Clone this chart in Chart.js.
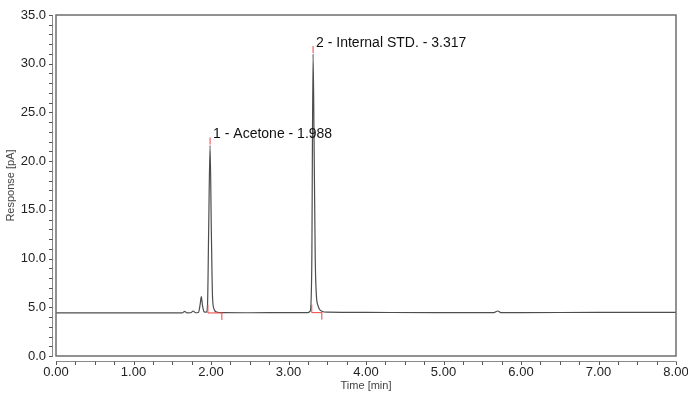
<!DOCTYPE html>
<html lang="en">

<head>
    <meta charset="UTF-8">
    <title>Chromatogram</title>
    <style>
        html, body { margin: 0; padding: 0; background: #ffffff; }
        .chart-wrapper { width: 688px; height: 396px; }
    </style>
</head>

<body>
    <div class="chart-wrapper">
        <canvas id="myChart"></canvas>
    </div>

    <script src="https://cdn.jsdelivr.net/npm/chart.js"></script>
    <script>
        // trace
        const timeMin = [0.00, 0.50, 1.00, 1.50, 1.63, 1.66, 1.69, 1.74, 1.77, 1.80, 1.84, 1.86, 1.875, 1.89, 1.91, 1.94,
            1.955, 1.97, 1.988, 2.005, 2.02, 2.04, 2.07, 2.15, 2.50, 3.00, 3.25, 3.28, 3.30, 3.317, 3.33, 3.345, 3.36,
            3.38, 3.40, 3.43, 3.50, 4.00, 5.00, 5.65, 5.70, 5.74, 6.00, 7.00, 8.00];
        const responsePA = [4.42, 4.42, 4.43, 4.43, 4.43, 4.58, 4.43, 4.44, 4.62, 4.44, 4.50, 5.30, 6.10, 5.20, 4.55, 4.50,
            5.20, 13.0, 21.6, 12.5, 6.0, 4.8, 4.52, 4.45, 4.44, 4.45, 4.46, 4.60, 9.0, 31.0, 22.0, 10.0, 6.2,
            5.2, 4.8, 4.6, 4.5, 4.47, 4.46, 4.46, 4.62, 4.46, 4.46, 4.47, 4.47];

        // peak table
        const peakLabels = ['1 - Acetone - 1.988', '2 - Internal STD. - 3.317'];
        const peakTimes = [1.988, 3.317];
        const peakHeights = [21.6, 31.0];
        const peakStarts = [1.96, 3.30];
        const peakEnds = [2.14, 3.43];
        const peakBaselines = [4.42, 4.45];

        const xTickLabels = ['0.00', '1.00', '2.00', '3.00', '4.00', '5.00', '6.00', '7.00', '8.00'];
        const yTickLabels = ['0.0', '5.0', '10.0', '15.0', '20.0', '25.0', '30.0', '35.0'];

        const FONT = "'Liberation Sans', Arial, sans-serif";

        const chromPlugin = {
            id: 'chromPlugin',
            afterDatasetsDraw(chart) {
                const { ctx, chartArea, scales: { x, y } } = chart;
                const { left, right, top, bottom } = chartArea;
                ctx.save();

                // plot frame
                ctx.strokeStyle = '#6e6e6e';
                ctx.lineWidth = 1.5;
                ctx.strokeRect(left, top, right - left, bottom - top);

                // detached axis lines
                ctx.strokeStyle = '#8a8a8a';
                ctx.lineWidth = 1;
                ctx.beginPath();
                ctx.moveTo(left - 3.5, top);
                ctx.lineTo(left - 3.5, bottom + 1);
                ctx.moveTo(left, bottom + 5.5);
                ctx.lineTo(right, bottom + 5.5);
                ctx.stroke();

                // tick marks
                ctx.strokeStyle = '#555';
                ctx.beginPath();
                y.ticks.forEach(t => {
                    const py = Math.round(y.getPixelForValue(t.value)) + 0.5;
                    ctx.moveTo(left - 3.5, py);
                    ctx.lineTo(left - 7, py);
                });
                x.ticks.forEach(t => {
                    const px = Math.round(x.getPixelForValue(t.value)) + 0.5;
                    ctx.moveTo(px, bottom + 5.5);
                    ctx.lineTo(px, bottom + 9);
                });
                ctx.stroke();

                // peak marks and labels
                ctx.strokeStyle = '#f04040';
                ctx.lineWidth = 1;
                ctx.font = '14px ' + FONT;
                ctx.fillStyle = '#111';
                ctx.textBaseline = 'middle';
                ctx.textAlign = 'left';
                peakTimes.forEach((t, i) => {
                    const px = x.getPixelForValue(t);
                    const py = y.getPixelForValue(peakHeights[i]);
                    ctx.beginPath();
                    ctx.moveTo(px, py - 1);
                    ctx.lineTo(px, py - 8);
                    const bx0 = x.getPixelForValue(peakStarts[i]);
                    const bx1 = x.getPixelForValue(peakEnds[i]);
                    const by = y.getPixelForValue(peakBaselines[i]);
                    ctx.moveTo(bx0, by - 8);
                    ctx.lineTo(bx0, by);
                    ctx.lineTo(bx1, by);
                    ctx.moveTo(bx1, by - 1);
                    ctx.lineTo(bx1, by + 7);
                    ctx.stroke();
                    ctx.fillText(peakLabels[i], px + 3, py - 11);
                });
                ctx.restore();
            }
        };

        const ctx = document.getElementById('myChart').getContext('2d');

        new Chart(ctx, {
            type: 'line',
            data: {
                datasets: [{
                    data: timeMin.map((t, i) => ({ x: t, y: responsePA[i] })),
                    borderColor: '#4d4d4d',
                    borderWidth: 1.2,
                    pointRadius: 0,
                    cubicInterpolationMode: 'monotone',
                    fill: false
                }]
            },
            options: {
                responsive: true,
                maintainAspectRatio: false,
                animation: false,
                events: [],
                plugins: {
                    legend: { display: false },
                    tooltip: { enabled: false }
                },
                layout: {
                    padding: { left: 0, right: 12, top: 15, bottom: 0 }
                },
                scales: {
                    x: {
                        type: 'linear',
                        min: 0,
                        max: 8,
                        grid: { display: false, drawTicks: false },
                        border: { display: false },
                        ticks: {
                            stepSize: 0.25,
                            autoSkip: false,
                            maxRotation: 0,
                            padding: 9,
                            color: '#222',
                            font: { family: FONT, size: 13 },
                            callback: v => Number.isInteger(v) ? xTickLabels[v] : ''
                        },
                        title: {
                            display: true,
                            text: 'Time [min]',
                            color: '#444',
                            font: { family: FONT, size: 11 },
                            padding: { top: 0, bottom: 3 }
                        },
                        afterFit: s => { s.height = 40; s.paddingLeft = 0; s.paddingRight = 0; }
                    },
                    y: {
                        min: 0,
                        max: 35,
                        grid: { display: false, drawTicks: false },
                        border: { display: false },
                        ticks: {
                            stepSize: 1,
                            autoSkip: false,
                            padding: 10,
                            color: '#222',
                            font: { family: FONT, size: 13 },
                            callback: v => v % 5 === 0 ? yTickLabels[v / 5] : ''
                        },
                        title: {
                            display: true,
                            text: 'Response [pA]',
                            color: '#444',
                            font: { family: FONT, size: 11 },
                            padding: { top: 4, bottom: 0 }
                        },
                        afterFit: s => { s.width = 56; s.paddingTop = 0; s.paddingBottom = 0; }
                    }
                }
            },
            plugins: [chromPlugin]
        });
    </script>
</body>

</html>
